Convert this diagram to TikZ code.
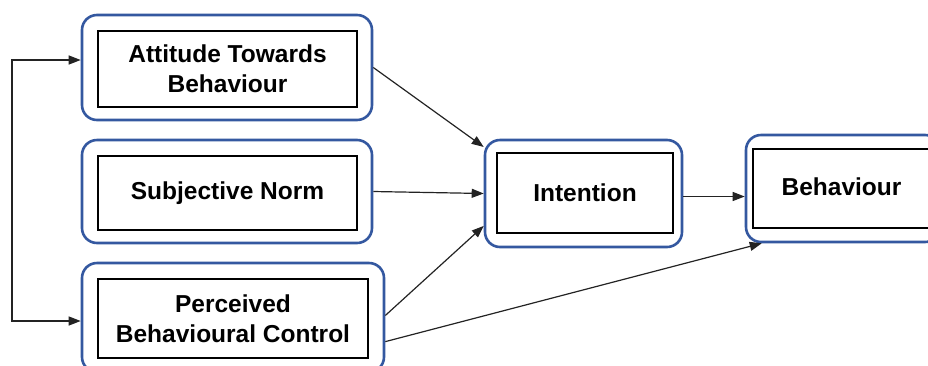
\documentclass[tikz,border=0pt]{standalone}
\usepackage{fontspec}
\setmainfont{Liberation Sans}
\usetikzlibrary{arrows.meta}
\definecolor{frameblue}{RGB}{52,88,160}
\definecolor{linkgray}{RGB}{35,35,35}
\begin{document}
\begin{tikzpicture}[x=1pt,y=-1pt,
  outerbox/.style={draw=frameblue, line width=2.6pt, rounded corners=15pt,
    inner sep=0pt, fill=white},
  innerbox/.style={draw=black, line width=2.4pt, inner sep=0pt, align=center,
    font=\fontsize{24.5}{30}\selectfont\bfseries},
  link/.style={draw=linkgray, line width=1.2pt,
    -{Triangle[length=12pt,width=9pt]}},
  linkboth/.style={draw=linkgray, line width=1.2pt,
    {Triangle[length=12pt,width=9pt]}-{Triangle[length=12pt,width=9pt]}}]
\useasboundingbox (0,0) rectangle (928,365);

% outer rounded frames
\node[outerbox, minimum width=290pt, minimum height=105pt] (attO) at (227,67.5) {};
\node[outerbox, minimum width=290pt, minimum height=103pt] (subO) at (227,191.5) {};
\node[outerbox, minimum width=302pt, minimum height=109pt] (pbcO) at (233,317.5) {};
\node[outerbox, minimum width=197pt, minimum height=107pt] (intO) at (583.5,193.5) {};
\node[outerbox, minimum width=194pt, minimum height=107pt] (behO) at (843,188.5) {};

% inner boxes with the labels
\node[innerbox, minimum width=259pt, minimum height=76pt] (attI) at (227.5,69) {Attitude Towards\\Behaviour};
\node[innerbox, minimum width=259pt, minimum height=74pt] (subI) at (227.5,193) {Subjective Norm};
\node[innerbox, minimum width=270pt, minimum height=79pt] (pbcI) at (233,318.5) {Perceived\\Behavioural Control};
\node[innerbox, minimum width=176pt, minimum height=80pt] (intI) at (585,193) {Intention};
\node[innerbox, minimum width=177pt, minimum height=79pt] (behI) at (841.5,188.5) {\raisebox{4pt}{Behaviour}};

% connectors
\draw[link] (attO.east) -- (intO.155);
\draw[link] (subO.east) -- (intO.west);
\draw[link] ([yshift=2pt]pbcO.east) -- (intO.198);
\draw[link] ([yshift=-3pt]intO.east) -- ([yshift=-8pt]behO.west);
\draw[link] (pbcO.-9) -- (behO.214);

% feedback loop on the left
\coordinate (fbA) at (12,60);
\coordinate (fbB) at (12,321);
\draw[linkboth] (attO.west |- fbA) -- (fbA) -- (fbB) -- (pbcO.west |- fbB);
\end{tikzpicture}
\end{document}
